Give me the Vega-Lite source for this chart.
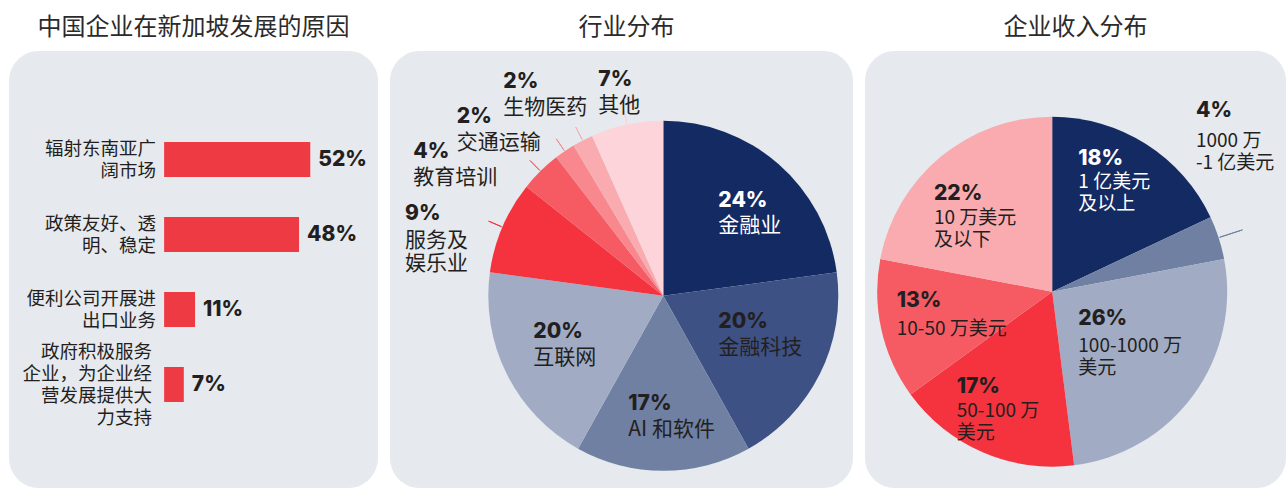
{
  "$schema": "https://vega.github.io/schema/vega-lite/v6.json",
  "padding": {"left": 9, "top": 16, "right": 0, "bottom": 0},
  "autosize": {"type": "pad"},
  "background": "#ffffff",
  "spacing": 12,
  "bounds": "flush",
  "resolve": {"scale": {"color": "independent", "theta": "independent", "x": "independent", "y": "independent"}},
  "config": {
    "view": {"fill": "#e6e9ee", "stroke": null, "cornerRadius": 30},
    "title": {"font": "Noto Sans CJK SC", "fontSize": 24, "fontWeight": "normal", "color": "#2b2b2b", "offset": 11, "anchor": "middle"},
    "text": {"color": "#231f20"},
    "style": {
      "p2": {"font": "Inter", "fontWeight": 800, "fontSize": 21, "align": "left", "baseline": "alphabetic"},
      "n2": {"font": "Noto Sans CJK SC", "fontSize": 21, "lineHeight": 23.5, "align": "left", "baseline": "alphabetic"},
      "n3": {"font": "Noto Sans CJK SC", "fontSize": 19, "lineHeight": 22, "align": "left", "baseline": "alphabetic"}
    }
  },
  "hconcat": [
    {
      "width": 369,
      "height": 437,
      "title": "中国企业在新加坡发展的原因",
      "data": {"values": [
        {"r": "辐射东南亚广阔市场", "lines": ["辐射东南亚广", "阔市场"], "v": 52, "p": "52%"},
        {"r": "政策友好、透明、稳定", "lines": ["政策友好、透", "明、稳定"], "v": 48, "p": "48%"},
        {"r": "便利公司开展进出口业务", "lines": ["便利公司开展进", "出口业务"], "v": 11, "p": "11%"},
        {"r": "政府积极服务企业，为企业经营发展提供大力支持", "lines": ["政府积极服务", "企业，为企业经", "营发展提供大", "力支持"], "v": 7, "p": "7%"}
      ]},
      "encoding": {
        "y": {"field": "r", "type": "nominal", "sort": null, "axis": null, "scale": {"range": [71, 371], "paddingInner": 0.533, "paddingOuter": 0.2665}}
      },
      "layer": [
        {"mark": {"type": "bar", "color": "#ee3a42"},
         "encoding": {"x": {"field": "v", "type": "quantitative", "axis": null, "scale": {"domain": [-55.2, 76.1], "nice": false, "zero": false}}}},
        {"mark": {"type": "text", "align": "left", "baseline": "middle", "dx": 8, "font": "Inter", "fontWeight": 800, "fontSize": 21},
         "encoding": {"x": {"field": "v", "type": "quantitative"}, "text": {"field": "p", "type": "nominal"}}},
        {"mark": {"type": "text", "align": "right", "baseline": "middle", "dx": -8, "dy": -11, "font": "Noto Sans CJK SC", "fontSize": 18.5, "lineHeight": 22},
         "encoding": {"x": {"datum": 0, "type": "quantitative"}, "text": {"condition": {"test": "length(datum.lines) == 2", "field": "lines", "type": "nominal"}, "value": ""}}},
        {"mark": {"type": "text", "align": "right", "baseline": "middle", "dx": -12, "dy": -33, "font": "Noto Sans CJK SC", "fontSize": 18.5, "lineHeight": 22},
         "encoding": {"x": {"datum": 0, "type": "quantitative"}, "text": {"condition": {"test": "length(datum.lines) == 4", "field": "lines", "type": "nominal"}, "value": ""}}}
      ]
    },
    {
      "width": 463,
      "height": 437,
      "title": {"text": "行业分布", "dx": 5},
      "data": {"values": [
        {"i": 1, "k": "金融业", "v": 24, "p": "24%", "n": ["金融业"]},
        {"i": 2, "k": "金融科技", "v": 20, "p": "20%", "n": ["金融科技"]},
        {"i": 3, "k": "AI 和软件", "v": 17, "p": "17%", "n": ["AI 和软件"]},
        {"i": 4, "k": "互联网", "v": 20, "p": "20%", "n": ["互联网"]},
        {"i": 5, "k": "服务及娱乐业", "v": 9, "p": "9%", "n": ["服务及", "娱乐业"]},
        {"i": 6, "k": "教育培训", "v": 4, "p": "4%", "n": ["教育培训"]},
        {"i": 7, "k": "交通运输", "v": 2, "p": "2%", "n": ["交通运输"]},
        {"i": 8, "k": "生物医药", "v": 2, "p": "2%", "n": ["生物医药"]},
        {"i": 9, "k": "其他", "v": 7, "p": "7%", "n": ["其他"]}
      ]},
      "encoding": {
        "theta": {"field": "v", "type": "quantitative", "stack": true},
        "order": {"field": "i", "type": "quantitative"},
        "x": {"datum": 0, "type": "quantitative", "axis": null, "scale": {"domain": [-1.5617, 1.084], "nice": false, "zero": false}},
        "y": {"datum": 0, "type": "quantitative", "axis": null, "scale": {"domain": [-1.0983, 1.3989], "nice": false, "zero": false}}
      },
      "layer": [
        {"mark": {"type": "arc", "outerRadius": 175},
         "encoding": {"color": {"field": "k", "type": "nominal", "legend": null, "sort": null,
           "scale": {"domain": ["金融业", "金融科技", "AI 和软件", "互联网", "服务及娱乐业", "教育培训", "交通运输", "生物医药", "其他"],
                     "range": ["#142a63", "#3e5184", "#6f80a2", "#a1acc4", "#f4333f", "#f65b64", "#f8878e", "#f9abb0", "#fcd4d9"]}}}},
        {"mark": {"type": "arc", "innerRadius": 176, "outerRadius": 190, "padAngle": 3, "filled": false, "strokeWidth": 1},
         "encoding": {"color": {"field": "k", "type": "nominal", "legend": null, "sort": null},
           "strokeOpacity": {"condition": {"test": "datum.v < 10", "value": 1}, "value": 0}}},
        {"mark": {"type": "text", "style": "p2", "radius": 113, "dx": -19.3, "dy": -4, "color": "#ffffff"}, "encoding": {"text": {"condition": {"test": "datum.i == 1", "field": "p", "type": "nominal"}, "value": ""}}},
        {"mark": {"type": "text", "style": "n2", "radius": 113, "dx": -19.3, "dy": 21.3, "color": "#ffffff"}, "encoding": {"text": {"condition": {"test": "datum.i == 1", "field": "n", "type": "nominal"}, "value": ""}}},
        {"mark": {"type": "text", "style": "p2", "radius": 113, "dx": -46.1, "dy": -18}, "encoding": {"text": {"condition": {"test": "datum.i == 2", "field": "p", "type": "nominal"}, "value": ""}}},
        {"mark": {"type": "text", "style": "n2", "radius": 113, "dx": -46.1, "dy": 7.4}, "encoding": {"text": {"condition": {"test": "datum.i == 2", "field": "n", "type": "nominal"}, "value": ""}}},
        {"mark": {"type": "text", "style": "p2", "radius": 113, "dx": -35, "dy": 1.2}, "encoding": {"text": {"condition": {"test": "datum.i == 3", "field": "p", "type": "nominal"}, "value": ""}}},
        {"mark": {"type": "text", "style": "n2", "radius": 113, "dx": -35, "dy": 26.7}, "encoding": {"text": {"condition": {"test": "datum.i == 3", "field": "n", "type": "nominal"}, "value": ""}}},
        {"mark": {"type": "text", "style": "p2", "radius": 113, "dx": -28.9, "dy": -8}, "encoding": {"text": {"condition": {"test": "datum.i == 4", "field": "p", "type": "nominal"}, "value": ""}}},
        {"mark": {"type": "text", "style": "n2", "radius": 113, "dx": -28.9, "dy": 17.4}, "encoding": {"text": {"condition": {"test": "datum.i == 4", "field": "n", "type": "nominal"}, "value": ""}}},
        {"mark": {"type": "text", "style": "p2", "radius": 200, "dx": -74.4, "dy": 2.8}, "encoding": {"text": {"condition": {"test": "datum.i == 5", "field": "p", "type": "nominal"}, "value": ""}}},
        {"mark": {"type": "text", "style": "n2", "radius": 200, "dx": -74.4, "dy": 29.8}, "encoding": {"text": {"condition": {"test": "datum.i == 5", "field": "n", "type": "nominal"}, "value": ""}}},
        {"mark": {"type": "text", "style": "p2", "radius": 200, "dx": -109.6, "dy": 5}, "encoding": {"text": {"condition": {"test": "datum.i == 6", "field": "p", "type": "nominal"}, "value": ""}}},
        {"mark": {"type": "text", "style": "n2", "radius": 200, "dx": -109.6, "dy": 30.4}, "encoding": {"text": {"condition": {"test": "datum.i == 6", "field": "n", "type": "nominal"}, "value": ""}}},
        {"mark": {"type": "text", "style": "p2", "radius": 200, "dx": -93.9, "dy": -7.3}, "encoding": {"text": {"condition": {"test": "datum.i == 7", "field": "p", "type": "nominal"}, "value": ""}}},
        {"mark": {"type": "text", "style": "n2", "radius": 200, "dx": -93.9, "dy": 18.1}, "encoding": {"text": {"condition": {"test": "datum.i == 7", "field": "n", "type": "nominal"}, "value": ""}}},
        {"mark": {"type": "text", "style": "p2", "radius": 200, "dx": -67.9, "dy": -30}, "encoding": {"text": {"condition": {"test": "datum.i == 8", "field": "p", "type": "nominal"}, "value": ""}}},
        {"mark": {"type": "text", "style": "n2", "radius": 200, "dx": -67.9, "dy": -3.9}, "encoding": {"text": {"condition": {"test": "datum.i == 8", "field": "n", "type": "nominal"}, "value": ""}}},
        {"mark": {"type": "text", "style": "p2", "radius": 200, "dx": -23.4, "dy": -14.2}, "encoding": {"text": {"condition": {"test": "datum.i == 9", "field": "p", "type": "nominal"}, "value": ""}}},
        {"mark": {"type": "text", "style": "n2", "radius": 200, "dx": -23.4, "dy": 11.8}, "encoding": {"text": {"condition": {"test": "datum.i == 9", "field": "n", "type": "nominal"}, "value": ""}}}
      ]
    },
    {
      "width": 421,
      "height": 437,
      "title": "企业收入分布",
      "data": {"values": [
        {"i": 1, "k": "1亿美元及以上", "v": 18, "p": "18%", "n": ["1 亿美元", "及以上"]},
        {"i": 2, "k": "1000万-1亿美元", "v": 4, "p": "4%", "n": ["1000 万", "-1 亿美元"]},
        {"i": 3, "k": "100-1000万美元", "v": 26, "p": "26%", "n": ["100-1000 万", "美元"]},
        {"i": 4, "k": "50-100万美元", "v": 17, "p": "17%", "n": ["50-100 万", "美元"]},
        {"i": 5, "k": "10-50万美元", "v": 13, "p": "13%", "n": ["10-50 万美元"]},
        {"i": 6, "k": "10万美元及以下", "v": 22, "p": "22%", "n": ["10 万美元", "及以下"]}
      ]},
      "encoding": {
        "theta": {"field": "v", "type": "quantitative", "stack": true},
        "order": {"field": "i", "type": "quantitative"},
        "x": {"datum": 0, "type": "quantitative", "axis": null, "scale": {"domain": [-1.0697, 1.336], "nice": false, "zero": false}},
        "y": {"datum": 0, "type": "quantitative", "axis": null, "scale": {"domain": [-1.1217, 1.3754], "nice": false, "zero": false}}
      },
      "layer": [
        {"mark": {"type": "arc", "outerRadius": 175},
         "encoding": {"color": {"field": "k", "type": "nominal", "legend": null, "sort": null,
           "scale": {"domain": ["1亿美元及以上", "1000万-1亿美元", "100-1000万美元", "50-100万美元", "10-50万美元", "10万美元及以下"],
                     "range": ["#142a63", "#6f80a2", "#a1acc4", "#f4333f", "#f65b64", "#f9abb0"]}}}},
        {"mark": {"type": "arc", "innerRadius": 176, "outerRadius": 200, "padAngle": 3, "filled": false, "strokeWidth": 1},
         "encoding": {"color": {"field": "k", "type": "nominal", "legend": null, "sort": null},
           "strokeOpacity": {"condition": {"test": "datum.v < 10", "value": 1}, "value": 0}}},
        {"mark": {"type": "text", "style": "p2", "radius": 113, "dx": -34.4, "dy": -31.3, "color": "#ffffff"}, "encoding": {"text": {"condition": {"test": "datum.i == 1", "field": "p", "type": "nominal"}, "value": ""}}},
        {"mark": {"type": "text", "style": "n3", "radius": 113, "dx": -34.4, "dy": -7.8, "color": "#ffffff"}, "encoding": {"text": {"condition": {"test": "datum.i == 1", "field": "n", "type": "nominal"}, "value": ""}}},
        {"mark": {"type": "text", "style": "p2", "radius": 60, "dx": 86.7, "dy": -156.5}, "encoding": {"text": {"condition": {"test": "datum.i == 2", "field": "p", "type": "nominal"}, "value": ""}}},
        {"mark": {"type": "text", "style": "n3", "radius": 60, "dx": 86.7, "dy": -126.4}, "encoding": {"text": {"condition": {"test": "datum.i == 2", "field": "n", "type": "nominal"}, "value": ""}}},
        {"mark": {"type": "text", "style": "p2", "radius": 113, "dx": -65.3, "dy": -33.1}, "encoding": {"text": {"condition": {"test": "datum.i == 3", "field": "p", "type": "nominal"}, "value": ""}}},
        {"mark": {"type": "text", "style": "n3", "radius": 113, "dx": -65.3, "dy": -6.3}, "encoding": {"text": {"condition": {"test": "datum.i == 3", "field": "n", "type": "nominal"}, "value": ""}}},
        {"mark": {"type": "text", "style": "p2", "radius": 113, "dx": -50.6, "dy": -2.7}, "encoding": {"text": {"condition": {"test": "datum.i == 4", "field": "p", "type": "nominal"}, "value": ""}}},
        {"mark": {"type": "text", "style": "n3", "radius": 113, "dx": -50.6, "dy": 21.4}, "encoding": {"text": {"condition": {"test": "datum.i == 4", "field": "n", "type": "nominal"}, "value": ""}}},
        {"mark": {"type": "text", "style": "p2", "radius": 113, "dx": -45.2, "dy": -9.6}, "encoding": {"text": {"condition": {"test": "datum.i == 5", "field": "p", "type": "nominal"}, "value": ""}}},
        {"mark": {"type": "text", "style": "n3", "radius": 113, "dx": -45.2, "dy": 18.9}, "encoding": {"text": {"condition": {"test": "datum.i == 5", "field": "n", "type": "nominal"}, "value": ""}}},
        {"mark": {"type": "text", "style": "p2", "radius": 113, "dx": -46.2, "dy": -4.6}, "encoding": {"text": {"condition": {"test": "datum.i == 6", "field": "p", "type": "nominal"}, "value": ""}}},
        {"mark": {"type": "text", "style": "n3", "radius": 113, "dx": -46.2, "dy": 18.9}, "encoding": {"text": {"condition": {"test": "datum.i == 6", "field": "n", "type": "nominal"}, "value": ""}}}
      ]
    }
  ]
}
